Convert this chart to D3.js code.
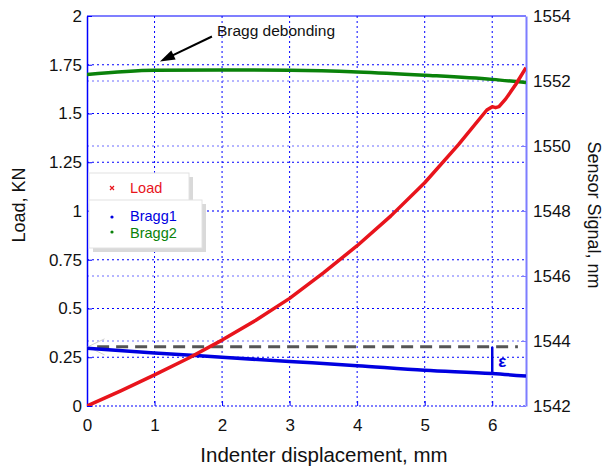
<!DOCTYPE html>
<html>
<head>
<meta charset="utf-8">
<script src="https://cdn.jsdelivr.net/npm/d3@7"></script>
<style>
  body { margin: 0; background: #fff; }
  svg { font-family: "Liberation Sans", Arial, sans-serif; }
</style>
</head>
<body>
<div id="chart"></div>
<script>
// values
var dispLoad = [0, 0.5, 1, 1.5, 2, 2.5, 3, 3.5, 4, 4.5, 5, 5.5, 5.92, 6, 6.05, 6.1, 6.2, 6.35, 6.5];
var loadKN   = [0, 0.078, 0.16, 0.245, 0.338, 0.44, 0.552, 0.683, 0.822, 0.975, 1.145, 1.34, 1.518, 1.535, 1.53, 1.535, 1.575, 1.65, 1.735];

var dispBragg = [0, 1, 2, 3, 4, 5, 6, 6.5];
var bragg1 = [1543.78, 1543.63, 1543.5, 1543.37, 1543.24, 1543.1, 1543.0, 1542.92];
var bragg2 = [1552.2, 1552.33, 1552.34, 1552.33, 1552.28, 1552.18, 1552.05, 1551.95];

var refLevel = 1543.82;   // dashed reference (initial Bragg1)
var epsX = 6;             // where the shift is marked

var xTicks = [0, 1, 2, 3, 4, 5, 6];
var loadTicks = [0, 0.25, 0.5, 0.75, 1, 1.25, 1.5, 1.75, 2];
var nmTicks = [1542, 1544, 1546, 1548, 1550, 1552, 1554];

var W = 609, H = 470;
var margin = {top: 16, right: 83, bottom: 64, left: 87};
var pw = W - margin.left - margin.right;
var ph = H - margin.top - margin.bottom;

var svg = d3.select("#chart").append("svg")
    .attr("width", W)
    .attr("height", H);

var g = svg.append("g")
    .attr("transform", "translate(" + margin.left + "," + margin.top + ")");

var x = d3.scaleLinear().domain([0, 6.5]).range([0, pw]);
var yL = d3.scaleLinear().domain([0, 2]).range([ph, 0]);
var yR = d3.scaleLinear().domain([1542, 1554]).range([ph, 0]);

g.append("clipPath").attr("id", "clip")
  .append("rect").attr("width", pw).attr("height", ph);

// grid lines
g.selectAll(".gx").data(xTicks.slice(1)).enter().append("line")
    .attr("x1", function(d) { return x(d); }).attr("x2", function(d) { return x(d); })
    .attr("y1", 0).attr("y2", ph)
    .attr("stroke", "#0000ff").attr("stroke-dasharray", "2,3");

g.selectAll(".gl").data(loadTicks.slice(1, -1)).enter().append("line")
    .attr("x1", 0).attr("x2", pw)
    .attr("y1", function(d) { return yL(d); }).attr("y2", function(d) { return yL(d); })
    .attr("stroke", "#0000ff").attr("stroke-dasharray", "2,3");

g.selectAll(".gr").data(nmTicks.slice(1, -1)).enter().append("line")
    .attr("x1", 0).attr("x2", pw)
    .attr("y1", function(d) { return yR(d); }).attr("y2", function(d) { return yR(d); })
    .attr("stroke", "#6a6aff").attr("stroke-dasharray", "2,3");

// frame: top solid, bottom dotted
g.append("line").attr("x1", 0).attr("x2", pw).attr("y1", 0).attr("y2", 0)
    .attr("stroke", "#0000ff").attr("stroke-width", 1.2);
g.append("line").attr("x1", 0).attr("x2", pw).attr("y1", ph).attr("y2", ph)
    .attr("stroke", "#0000ff").attr("stroke-dasharray", "2,2").attr("stroke-width", 1.2);

// axes
var xAxis = g.append("g")
    .attr("transform", "translate(0," + ph + ")")
    .call(d3.axisBottom(x).tickValues(xTicks).tickFormat(d3.format("d"))
          .tickSizeInner(-5).tickSizeOuter(0).tickPadding(13));

var leftAxis = g.append("g")
    .call(d3.axisLeft(yL).tickValues(loadTicks).tickFormat(function(d) { return String(d); })
          .tickSizeInner(-5).tickSizeOuter(0).tickPadding(5));

var rightAxis = g.append("g")
    .attr("transform", "translate(" + pw + ",0)")
    .call(d3.axisRight(yR).tickValues(nmTicks).tickFormat(d3.format("d"))
          .tickSizeInner(-5).tickSizeOuter(0).tickPadding(7));

xAxis.select(".domain").remove();
xAxis.selectAll("line").attr("stroke", "#0000ff");
leftAxis.select(".domain").attr("stroke", "#0000ff").attr("stroke-width", 1.5);
leftAxis.selectAll("line").attr("stroke", "#0000ff");
rightAxis.select(".domain").attr("stroke", "#7d7dff").attr("stroke-width", 2);
rightAxis.selectAll("line").attr("stroke", "#7d7dff");

[xAxis, leftAxis, rightAxis].forEach(function(a) {
    a.selectAll("text")
        .attr("fill", "#111")
        .style("font-size", "17px")
        .style("font-family", '"Liberation Sans", Arial, sans-serif');
});

// data lines
var plot = g.append("g").attr("clip-path", "url(#clip)");

var lineL = d3.line()
    .x(function(d) { return x(d[0]); })
    .y(function(d) { return yL(d[1]); });
var lineR = d3.line()
    .x(function(d) { return x(d[0]); })
    .y(function(d) { return yR(d[1]); })
    .curve(d3.curveMonotoneX);

// faint leftover marks at origin of the reference line
plot.append("path")
    .attr("d", "M" + (x(0.26)) + "," + (yR(refLevel) - 8) + "L" + x(0.01) + "," + yR(refLevel) +
               "L" + (x(0.26)) + "," + (yR(refLevel) + 8))
    .attr("fill", "none").attr("stroke", "#d0d0d0").attr("stroke-width", 1);

plot.append("line")
    .attr("x1", x(0.15)).attr("x2", x(6.38))
    .attr("y1", yR(refLevel)).attr("y2", yR(refLevel))
    .attr("stroke", "#555").attr("stroke-width", 3)
    .attr("stroke-dasharray", "12,7");

plot.append("path")
    .datum(d3.zip(dispBragg, bragg2))
    .attr("d", lineR)
    .attr("fill", "none").attr("stroke", "#0a820a").attr("stroke-width", 3.5);

plot.append("path")
    .datum(d3.zip(dispBragg, bragg1))
    .attr("d", lineR)
    .attr("fill", "none").attr("stroke", "#0000e0").attr("stroke-width", 3.5);

plot.append("path")
    .datum(d3.zip(dispLoad, loadKN))
    .attr("d", lineL)
    .attr("fill", "none").attr("stroke", "#e8141c").attr("stroke-width", 3.5)
    .attr("stroke-linejoin", "round");

// epsilon marker
var b1at6 = d3.scaleLinear().domain(dispBragg).range(bragg1)(epsX);
g.append("line")
    .attr("x1", x(epsX)).attr("x2", x(epsX))
    .attr("y1", yR(refLevel)).attr("y2", yR(b1at6))
    .attr("stroke", "#0000e0").attr("stroke-width", 2.5);
g.append("text")
    .attr("x", x(epsX) + 6).attr("y", yR(refLevel) + 20)
    .attr("fill", "#0000e0").style("font-size", "17px").style("font-weight", "bold")
    .text("ε");

// annotation
var tipX = x(1.08), tipY = yR(1552.6);
var fromX = tipX + 52, fromY = tipY - 25;
var ang = Math.atan2(tipY - fromY, tipX - fromX);
g.append("line")
    .attr("x1", fromX).attr("y1", fromY)
    .attr("x2", tipX - 10 * Math.cos(ang)).attr("y2", tipY - 10 * Math.sin(ang))
    .attr("stroke", "#000").attr("stroke-width", 2);
var hl = 15, hw = 5;
var bx = tipX - hl * Math.cos(ang), by = tipY - hl * Math.sin(ang);
g.append("path")
    .attr("d", "M" + tipX + "," + tipY +
               "L" + (bx + hw * Math.sin(ang)) + "," + (by - hw * Math.cos(ang)) +
               "L" + (bx - hw * Math.sin(ang)) + "," + (by + hw * Math.cos(ang)) + "Z")
    .attr("fill", "#000");
g.append("text")
    .attr("x", fromX + 5).attr("y", fromY - 1)
    .style("font-size", "15.5px").attr("fill", "#111")
    .text("Bragg debonding");

// legend (two boxes with shadows)
function legendBox(x0, y0, w, h) {
    svg.append("rect").attr("x", x0 + 4).attr("y", y0 + 4).attr("width", w).attr("height", h)
        .attr("fill", "#d9d9d9");
    svg.append("rect").attr("x", x0).attr("y", y0).attr("width", w).attr("height", h)
        .attr("fill", "#fff").attr("stroke", "#e2e2e2").attr("stroke-width", 1);
}
legendBox(89, 173, 100, 30);
legendBox(89, 200, 113, 48);

svg.append("path")
    .attr("d", "M110,186L114,190M114,186L110,190")
    .attr("stroke", "#e8141c").attr("stroke-width", 1.2);
svg.append("circle").attr("cx", 112).attr("cy", 217).attr("r", 1.6).attr("fill", "#0000e0");
svg.append("circle").attr("cx", 112).attr("cy", 232).attr("r", 1.6).attr("fill", "#0a820a");

var legendItems = [
    {name: "Load", color: "#e8141c", y: 193},
    {name: "Bragg1", color: "#0000e0", y: 221},
    {name: "Bragg2", color: "#0a820a", y: 237.5}
];
svg.selectAll(".leg").data(legendItems).enter().append("text")
    .attr("x", 130).attr("y", function(d) { return d.y; })
    .attr("fill", function(d) { return d.color; })
    .style("font-size", "14.5px")
    .text(function(d) { return d.name; });

// axis titles
svg.append("text")
    .attr("text-anchor", "middle")
    .attr("transform", "translate(25,205)rotate(-90)")
    .style("font-size", "18px").attr("fill", "#111")
    .text("Load, KN");

svg.append("text")
    .attr("text-anchor", "middle")
    .attr("transform", "translate(588,215)rotate(90)")
    .style("font-size", "18px").attr("fill", "#111")
    .text("Sensor Signal, nm");

svg.append("text")
    .attr("text-anchor", "middle")
    .attr("x", 324).attr("y", 462)
    .style("font-size", "20.5px").attr("fill", "#111")
    .text("Indenter displacement, mm");
</script>
</body>
</html>
